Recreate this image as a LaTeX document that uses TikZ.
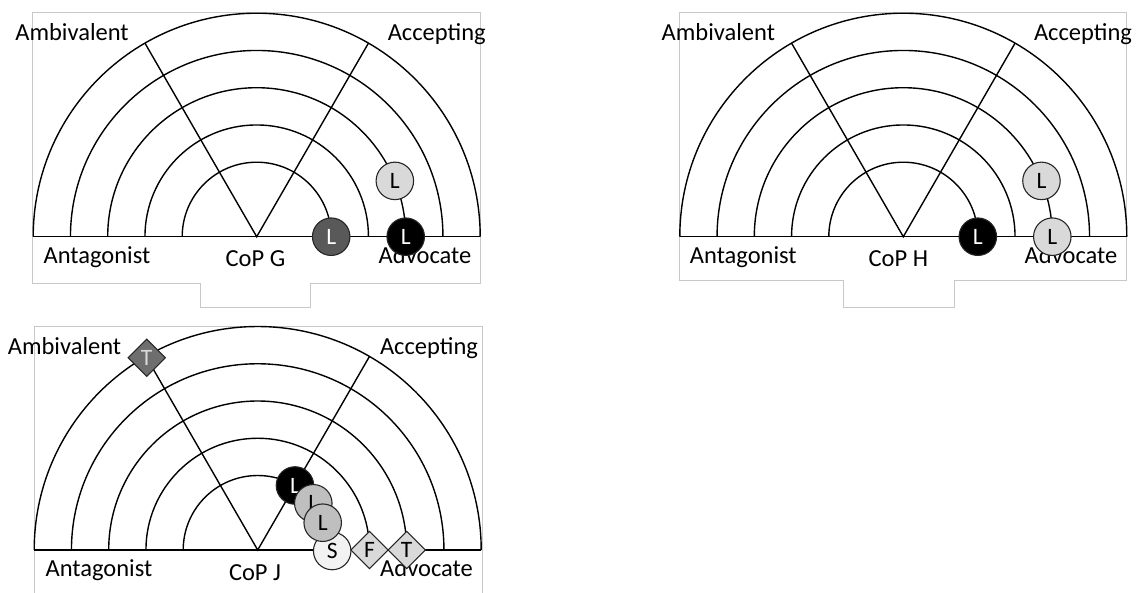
\documentclass[tikz,border=0pt]{standalone}
\usepackage{fontspec}
\setmainfont{Carlito}
\usetikzlibrary{shapes.geometric}
\definecolor{framegray}{HTML}{C8C8C8}
\definecolor{darkL}{HTML}{595959}
\definecolor{lightL}{HTML}{D9D9D9}
\definecolor{midL}{HTML}{BFBFBF}
\definecolor{paleS}{HTML}{F2F2F2}
\definecolor{darkT}{HTML}{6E6E6E}
\tikzset{
  arcline/.style={line width=1.4pt, black},
  frameline/.style={line width=1pt, framegray},
  lbl/.style={font=\fontsize{24.5}{24.5}\selectfont, inner sep=0pt, anchor=base},
  member/.style={circle, draw=black!85, line width=1.1pt, minimum size=37.5pt, inner sep=0pt, font=\fontsize{23.5}{23.5}\selectfont},
  tmember/.style={diamond, aspect=1, draw=black!85, line width=1.1pt, minimum width=37.7pt, minimum height=37.7pt, inner sep=0pt, font=\fontsize{23.5}{23.5}\selectfont},
  fan/.pic={
    \foreach \r in {74.5,111.75,149,186.25,223.5}
      \draw[arcline] (\r,0) arc[start angle=0, end angle=180, radius=\r];
    \draw[arcline] (-223.5,0) -- (223.5,0);
    \draw[arcline] (120:223.5) -- (0,0) -- (60:223.5);
  }
}
\begin{document}
\begin{tikzpicture}[x=1pt, y=1pt]
\useasboundingbox (0,0) rectangle (1142,-592);

% ---------- Panel G ----------
\begin{scope}[shift={(256.7,-236.7)}]
  \draw[frameline] (-56.7,-46.3) -- (-224.2,-46.3) -- (-224.2,224.4) -- (224,224.4) -- (224,-46.3) -- (54,-46.3) -- (54,-70.6) -- (-56.7,-70.6) -- cycle;
  \pic {fan};
  \node[lbl] (gamb) at (-184.7,196) {Ambivalent};
  \node[lbl] (gacc) at (180,196) {Accepting};
  \node[lbl] (gant) at (-159.7,-26.6) {Antagonist};
  \node[lbl] (gcop) at (-1.2,-29.3) {CoP G};
  \node[lbl] (gadv) at (168.3,-26.6) {Advocate};
  \node[member, fill=darkL, text=white] (g1) at (0:74.5) {L};
  \node[member, fill=lightL] (g2) at (22:149) {L};
  \node[member, fill=black, text=white] (g3) at (0:149) {L};
\end{scope}

% ---------- Panel H ----------
\begin{scope}[shift={(903.3,-236.7)}]
  \draw[frameline] (-60,-43.3) -- (-224.3,-43.3) -- (-224.3,224.4) -- (223.4,224.4) -- (223.4,-43.3) -- (51,-43.3) -- (51,-70.6) -- (-60,-70.6) -- cycle;
  \pic {fan};
  \node[lbl] (hamb) at (-185,196) {Ambivalent};
  \node[lbl] (hacc) at (179.7,196) {Accepting};
  \node[lbl] (hant) at (-160,-26.6) {Antagonist};
  \node[lbl] (hcop) at (-5,-30) {CoP H};
  \node[lbl] (hadv) at (167.7,-26.6) {Advocate};
  \node[member, fill=black, text=white] (h1) at (0:74.5) {L};
  \node[member, fill=lightL] (h2) at (22:149) {L};
  \node[member, fill=lightL] (h3) at (0:149) {L};
\end{scope}

% ---------- Panel J ----------
\begin{scope}[shift={(257.7,-550)}]
  \draw[frameline] (-223.4,-50) -- (-223.4,223.3) -- (224.6,223.3) -- (224.6,-50);
  \pic {fan};
  \node[lbl] (jamb) at (-193.2,195.7) {Ambivalent};
  \node[lbl] (jacc) at (171.3,195.7) {Accepting};
  \node[lbl] (jant) at (-158.7,-26.7) {Antagonist};
  \node[lbl] (jcop) at (-2.7,-30) {CoP J};
  \node[lbl] (jadv) at (168.8,-26.7) {Advocate};
  \node[tmember, fill=darkT, text=lightL] (jt1) at (120:222) {T};
  \node[member, fill=paleS] (js) at (74.5,-1) {S};
  \node[member, fill=black, text=white] (jl1) at (60:74.5) {L};
  \node[member, fill=midL] (jl2) at (55.6,46.7) {L};
  \node[member, fill=midL] (jl3) at (65,27.3) {L};
  \node[tmember, fill=lightL] (jf) at (111.75,0) {F};
  \node[tmember, fill=lightL] (jt2) at (149,0) {T};
\end{scope}
\end{tikzpicture}
\end{document}
